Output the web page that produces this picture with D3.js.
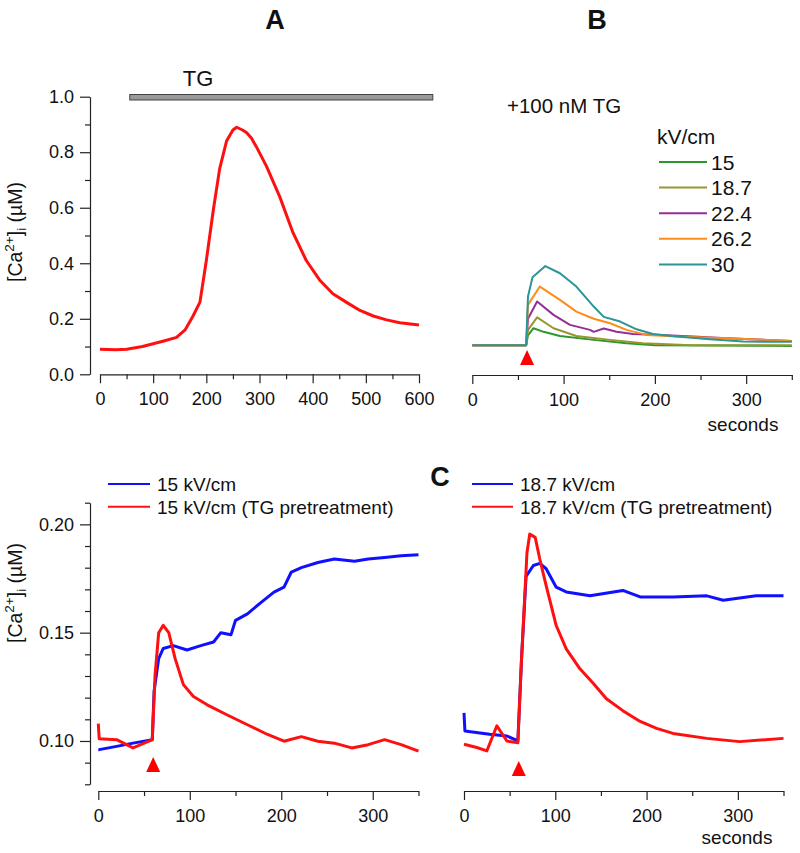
<!DOCTYPE html>
<html><head><meta charset="utf-8">
<script src="https://cdn.jsdelivr.net/npm/d3@7"></script>
<style>
body{margin:0;background:#fff;}
text{font-family:"Liberation Sans",Arial,sans-serif;fill:#111;}
</style></head>
<body><svg id="chart" width="800" height="853"></svg>
<script>
// ---------- DATA ----------
// Panel A: TG alone, [Ca2+]i (µM) vs time (s)
const aTime = [0,30,50,80,100,120,144,160,175,188,200,213,225,238,250,257,268,276,285,294,313,338,363,388,413,438,463,489,514,539,564,600];
const aCa   = [0.09,0.088,0.09,0.1,0.11,0.12,0.133,0.16,0.21,0.26,0.41,0.59,0.74,0.84,0.88,0.89,0.88,0.87,0.85,0.82,0.75,0.64,0.51,0.41,0.34,0.29,0.26,0.23,0.21,0.196,0.186,0.178];
const tgBar = [56,626];

// Panel B: +100 nM TG, responses to nsPEF of different strengths
const bFields = ["15","18.7","22.4","26.2","30"];
const bColors = ["#2e962e","#969630","#962e96","#ff8c1a","#2a9696"];
const b15t  = [0,59,61,67,78,96,133,169,200,260,350];
const b15   = [0.105,0.105,0.14,0.166,0.153,0.138,0.124,0.112,0.105,0.104,0.102];
const b187t = [0,59,61,71,89,114,151,187,240,300,350];
const b187  = [0.105,0.105,0.16,0.205,0.166,0.138,0.124,0.112,0.105,0.105,0.105];
const b224t = [0,59,61,71,89,107,129,133,144,158,176,206,242,279,350];
const b224  = [0.105,0.105,0.2,0.262,0.214,0.178,0.16,0.153,0.165,0.153,0.145,0.142,0.136,0.13,0.12];
const b262t = [0,59,61,74,96,114,133,151,169,191,224,279,350];
const b262  = [0.105,0.105,0.25,0.316,0.268,0.226,0.2,0.184,0.16,0.142,0.136,0.13,0.12];
const b30t  = [0,59,61,66,80,96,114,133,144,162,180,198,224,260,297,350];
const b30   = [0.105,0.105,0.28,0.35,0.39,0.364,0.316,0.244,0.207,0.19,0.162,0.145,0.136,0.126,0.118,0.117];
const stimTime = 60;

// Panel C: 15 kV/cm
const cBlueT = [0,1,20,38,59,61,66,71,82,97,112,126,134,145,150,163,178,192,203,211,222,240,258,280,295,313,331,350];
const cBlue  = [0.096,0.096,0.0975,0.099,0.1006,0.123,0.138,0.1427,0.144,0.142,0.144,0.1457,0.15,0.149,0.1557,0.1587,0.164,0.1687,0.171,0.178,0.18,0.1824,0.184,0.183,0.184,0.1847,0.1855,0.186];
const cRedT  = [0,1,20,38,59,62,66,71,77,84,93,104,119,141,163,185,203,222,240,258,277,295,313,331,350];
const cRed   = [0.108,0.101,0.1006,0.0968,0.1006,0.13,0.15,0.1534,0.15,0.138,0.126,0.1205,0.1167,0.112,0.1075,0.103,0.0999,0.102,0.0999,0.099,0.0968,0.0983,0.1006,0.0983,0.0953];

// Panel D: 18.7 kV/cm
const dBlueT = [0,1,28,47,59,63,68,76,83,90,101,112,138,174,193,229,266,284,320,350];
const dBlue  = [0.113,0.1046,0.1031,0.1023,0.1,0.1377,0.176,0.181,0.182,0.1795,0.171,0.1688,0.167,0.1695,0.1665,0.1665,0.167,0.165,0.167,0.167];
const dRedT  = [0,14,25,36,47,59,63,69,72,78,83,90,101,112,127,142,156,174,193,211,229,266,302,350];
const dRed   = [0.0985,0.097,0.0954,0.107,0.1,0.0992,0.1377,0.187,0.1955,0.194,0.184,0.1717,0.1533,0.1425,0.1333,0.1264,0.1195,0.114,0.109,0.1058,0.1035,0.1012,0.0997,0.1012];

const xTicksA = [0,100,200,300,400,500,600];
const xTicksB = [0,100,200,300];
const yTicksA = [0,0.2,0.4,0.6,0.8,1.0];
const yTicksC = [0.10,0.15,0.20];

// ---------- DRAW ----------
const svg = d3.select("#chart");
const FS = 18;

function xAxis(g, scale, y, major, minorStep, max){
  const minor = d3.range(0, max+0.001, minorStep).filter(v=>!major.includes(v));
  g.append("g").attr("transform",`translate(0,${y})`)
    .call(d3.axisBottom(scale).tickValues(minor).tickSize(5).tickSizeOuter(0).tickFormat(""))
    .call(s=>s.select(".domain").remove());
  const ax = g.append("g").attr("transform",`translate(0,${y})`)
    .call(d3.axisBottom(scale).tickValues(major).tickSize(9).tickPadding(9).tickSizeOuter(0).tickFormat(d3.format("d")));
  ax.selectAll("text").attr("font-size",FS).attr("fill","#111");
  ax.selectAll("line,path").attr("stroke","#222").attr("stroke-width",1.2);
  g.selectAll("line").attr("stroke","#222").attr("stroke-width",1.2);
}
function yAxis(g, scale, x, major, minorVals, fmt){
  g.append("g").attr("transform",`translate(${x},0)`)
    .call(d3.axisLeft(scale).tickValues(minorVals).tickSize(5).tickSizeOuter(0).tickFormat(""))
    .call(s=>s.select(".domain").attr("stroke","#222").attr("stroke-width",1.2));
  const ax = g.append("g").attr("transform",`translate(${x},0)`)
    .call(d3.axisLeft(scale).tickValues(major).tickSize(10).tickPadding(6).tickSizeOuter(0).tickFormat(d3.format(fmt)));
  ax.select(".domain").remove();
  ax.selectAll("text").attr("font-size",FS).attr("fill","#111");
  g.selectAll("line").attr("stroke","#222").attr("stroke-width",1.2);
}
function trace(g, xs, ys, t, v, color, w){
  const line = d3.line().x((d,i)=>xs(t[i])).y(d=>ys(d));
  g.append("path").datum(v).attr("d",line).attr("fill","none")
    .attr("stroke",color).attr("stroke-width",w).attr("stroke-linejoin","round");
}
function yLabel(cx, cy){
  const t = svg.append("text").attr("transform",`translate(${cx},${cy}) rotate(-90)`)
    .attr("text-anchor","middle").attr("font-size",19.5);
  t.append("tspan").text("[Ca");
  t.append("tspan").attr("dy",-8).attr("font-size",13.5).text("2+");
  t.append("tspan").attr("dy",8).text("]");
  t.append("tspan").attr("dy",4).attr("font-size",13.5).text("i");
  t.append("tspan").attr("dy",-4).text(" (µM)");
}
function triangle(g, x, yBase){
  g.append("path").attr("d",`M${x-7},${yBase} L${x+7},${yBase} L${x},${yBase-15} Z`).attr("fill","#ff0000");
}

// Titles
svg.append("text").attr("x",275).attr("y",29).attr("text-anchor","middle").attr("font-size",27).attr("font-weight","bold").text("A");
svg.append("text").attr("x",597).attr("y",29).attr("text-anchor","middle").attr("font-size",27).attr("font-weight","bold").text("B");
svg.append("text").attr("x",440).attr("y",486).attr("text-anchor","middle").attr("font-size",27).attr("font-weight","bold").text("C");

// Panel A
const xA = d3.scaleLinear().domain([0,600]).range([100,419]);
const yA = d3.scaleLinear().domain([0,1]).range([374.3,96.7]);
const gA = svg.append("g");
xAxis(gA, xA, 374.3, xTicksA, 50, 600);
yAxis(gA, yA, 90, yTicksA, d3.range(0.1,1,0.2), ".1f");
gA.append("rect").attr("x",xA(tgBar[0])).attr("y",94.5).attr("width",xA(tgBar[1])-xA(tgBar[0])).attr("height",5.5)
  .attr("fill","#9a9a9a").attr("stroke","#444").attr("stroke-width",1);
gA.append("text").attr("x",198).attr("y",86).attr("text-anchor","middle").attr("font-size",22).text("TG");
trace(gA, xA, yA, aTime, aCa, "#ff1010", 3);
yLabel(22, 232);

// Panel B
const xB = d3.scaleLinear().domain([0,350]).range([472.3,791.8]);
const gB = svg.append("g");
xAxis(gB, xB, 375, xTicksB, 50, 350);
const bSeries = [[b15t,b15],[b187t,b187],[b224t,b224],[b262t,b262],[b30t,b30]];
bSeries.forEach((s,i)=>trace(gB, xB, yA, s[0], s[1], bColors[i], 2));
triangle(gB, xB(stimTime), 365);
gB.append("text").attr("x",507).attr("y",113).attr("font-size",20.5).text("+100 nM TG");
gB.append("text").attr("x",657).attr("y",144).attr("font-size",21).text("kV/cm");
bFields.forEach((f,i)=>{
  const y = 162 + i*25.6;
  gB.append("line").attr("x1",659).attr("x2",707).attr("y1",y).attr("y2",y).attr("stroke",bColors[i]).attr("stroke-width",2);
  gB.append("text").attr("x",711).attr("y",y+7.5).attr("font-size",21).text(f);
});
gB.append("text").attr("x",743).attr("y",431).attr("text-anchor","middle").attr("font-size",19).text("seconds");

// Panel C
const xC = d3.scaleLinear().domain([0,350]).range([98.3,418.5]);
const yC = d3.scaleLinear().domain([0.08,0.21]).range([784.3,502.7]);
const gC = svg.append("g");
xAxis(gC, xC, 791, xTicksB, 50, 350);
yAxis(gC, yC, 90, yTicksC, [0.08,0.09,0.11,0.12,0.13,0.14,0.16,0.17,0.18,0.19,0.21], ".2f");
trace(gC, xC, yC, cBlueT, cBlue, "#1010ff", 3);
trace(gC, xC, yC, cRedT, cRed, "#ff1010", 3);
triangle(gC, xC(stimTime), 772);
yLabel(22, 593);
[["15 kV/cm","#1010ff"],["15 kV/cm (TG pretreatment)","#ff1010"]].forEach((d,i)=>{
  const y = 484 + i*22.7;
  gC.append("line").attr("x1",108).attr("x2",150).attr("y1",y).attr("y2",y).attr("stroke",d[1]).attr("stroke-width",2);
  gC.append("text").attr("x",157).attr("y",y+7).attr("font-size",19).text(d[0]);
});

// Panel D
const xD = d3.scaleLinear().domain([0,350]).range([464,783.5]);
const gD = svg.append("g");
xAxis(gD, xD, 791, xTicksB, 50, 350);
trace(gD, xD, yC, dBlueT, dBlue, "#1010ff", 3);
trace(gD, xD, yC, dRedT, dRed, "#ff1010", 3);
triangle(gD, xD(stimTime), 776);
[["18.7 kV/cm","#1010ff"],["18.7 kV/cm (TG pretreatment)","#ff1010"]].forEach((d,i)=>{
  const y = 484 + i*22.7;
  gD.append("line").attr("x1",472).attr("x2",513).attr("y1",y).attr("y2",y).attr("stroke",d[1]).attr("stroke-width",2);
  gD.append("text").attr("x",520).attr("y",y+7).attr("font-size",19).text(d[0]);
});
gD.append("text").attr("x",737).attr("y",844).attr("text-anchor","middle").attr("font-size",19).text("seconds");
</script></body></html>
